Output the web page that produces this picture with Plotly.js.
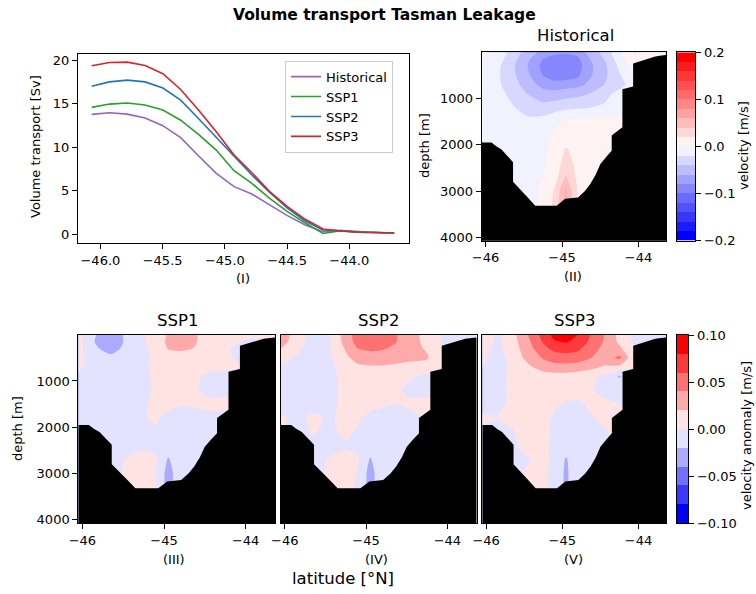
<!DOCTYPE html>
<html>
<head>
<meta charset="utf-8">
<script src="https://cdn.plot.ly/plotly-3.0.1.min.js"></script>
<style>html,body{margin:0;padding:0;background:#fff}#chart{width:756px;height:594px}</style>
</head>
<body>
<div id="chart"></div>
<script>
// ---------- Panel (I): volume transport ----------
var transportLat = [-46.07,-45.927,-45.784,-45.641,-45.498,-45.355,-45.212,-45.069,-44.926,-44.783,-44.64,-44.497,-44.354,-44.211,-44.068,-43.925,-43.782,-43.639];
var transportHist = [13.77,13.96,13.80,13.35,12.47,11.10,9.02,7.00,5.47,4.63,3.37,2.14,1.07,0.30,0.38,0.23,0.20,0.15];
var transportSSP1 = [14.57,14.95,15.07,14.84,14.26,13.10,11.47,9.67,7.30,5.85,4.13,2.60,1.30,0.10,0.42,0.30,0.20,0.15];
var transportSSP2 = [17.00,17.50,17.70,17.50,16.80,15.40,13.30,11.10,8.90,6.80,4.80,3.00,1.53,0.50,0.42,0.23,0.20,0.15];
var transportSSP3 = [19.35,19.73,19.77,19.39,18.43,16.63,14.26,11.78,9.10,7.07,4.90,3.17,1.72,0.60,0.38,0.23,0.20,0.15];
var seriesNames = ["Historical","SSP1","SSP2","SSP3"];

// ---------- Sections: grid ----------
var gridLat = [-46.05,-45.85,-45.65,-45.45,-45.25,-45.1,-44.95,-44.8,-44.65,-44.45,-44.25,-44.05,-43.85,-43.65];
var gridDepth = [0,150,300,500,700,900,1200,1500,1800,2100,2400,2700,3000,3400,4100];

// Historical velocity [m/s]
var velHist = [
 [0.006,-0.004,-0.028,-0.048,-0.066,-0.074,-0.076,-0.072,-0.055,-0.032,-0.004,0.022,0.010,0.004],
 [0.002,-0.010,-0.032,-0.056,-0.080,-0.090,-0.092,-0.086,-0.062,-0.040,-0.010,0.015,0.008,0.002],
 [-0.004,-0.015,-0.036,-0.060,-0.085,-0.095,-0.096,-0.090,-0.066,-0.045,-0.016,0.008,0.004,0.000],
 [-0.006,-0.016,-0.035,-0.056,-0.080,-0.090,-0.090,-0.084,-0.064,-0.045,-0.022,-0.004,0,0],
 [-0.010,-0.016,-0.030,-0.050,-0.066,-0.072,-0.070,-0.066,-0.056,-0.040,-0.030,-0.004,0,0],
 [-0.010,-0.013,-0.025,-0.040,-0.052,-0.052,-0.048,-0.045,-0.040,-0.030,-0.010,0,0,0],
 [-0.008,-0.010,-0.018,-0.028,-0.032,-0.028,-0.024,-0.022,-0.020,-0.015,-0.005,0,0,0],
 [-0.010,-0.010,-0.012,-0.015,-0.012,-0.004,0.003,0.006,0.007,0.007,0.005,0,0,0],
 [-0.010,-0.010,-0.010,-0.008,-0.004,0.002,0.008,0.009,0.008,0.006,0.004,0,0,0],
 [-0.010,-0.010,-0.010,-0.006,-0.003,0.004,0.022,0.012,0.007,0.005,0.004,0,0,0],
 [-0.010,-0.010,-0.008,-0.006,-0.002,0.006,0.030,0.014,0.007,0.004,0.004,0,0,0],
 [-0.010,-0.010,-0.008,-0.006,0.000,0.010,0.042,0.016,0.006,0.004,0,0,0,0],
 [-0.010,-0.010,-0.008,-0.004,0.002,0.022,0.062,0.020,0.005,0.004,0,0,0,0],
 [-0.010,-0.010,-0.008,-0.004,0.002,0.025,0.060,0.020,0.005,0.004,0,0,0,0],
 [-0.010,-0.010,-0.008,-0.004,0.002,0.025,0.060,0.020,0.005,0.004,0,0,0,0]
];
// SSP1 velocity anomaly [m/s]
var anomSSP1 = [
 [0.008,-0.018,-0.036,-0.014,-0.002,0.008,0.022,0.028,0.024,0.010,0.006,0.003,0.002,0.002],
 [0.008,-0.020,-0.038,-0.014,-0.002,0.008,0.024,0.030,0.024,0.010,0.006,0.000,-0.002,0.000],
 [0.006,-0.016,-0.030,-0.012,-0.003,0.006,0.021,0.023,0.020,0.008,0.002,-0.004,-0.004,0.000],
 [0.004,-0.008,-0.014,-0.008,-0.004,0.004,0.010,0.012,0.010,0.008,0.004,-0.004,-0.004,0],
 [0.003,-0.006,-0.008,-0.008,-0.002,0.004,0.008,0.010,0.008,0.006,0.004,0,0,0],
 [-0.002,-0.006,-0.008,-0.008,-0.004,0.003,0.008,0.008,0.004,-0.004,-0.006,0,0,0],
 [-0.006,-0.006,-0.008,-0.008,-0.003,0.002,0.008,0.008,0.003,-0.005,-0.004,0,0,0],
 [-0.006,-0.006,-0.008,-0.008,-0.002,0.004,0.004,0.001,0.002,0.004,0.004,0,0,0],
 [-0.006,-0.006,-0.008,-0.006,-0.001,0.002,-0.004,-0.006,-0.006,-0.004,-0.004,0,0,0],
 [-0.006,-0.006,-0.008,-0.006,-0.003,-0.002,-0.006,-0.006,-0.006,-0.004,-0.004,0,0,0],
 [-0.006,-0.006,-0.006,-0.004,-0.003,-0.004,-0.010,-0.006,-0.006,-0.004,-0.004,0,0,0],
 [-0.006,-0.006,-0.004,0.001,0.006,0.002,-0.022,-0.008,-0.006,-0.004,-0.004,0,0,0],
 [-0.006,-0.006,-0.004,0.002,0.005,0.000,-0.028,-0.008,-0.006,-0.004,-0.004,0,0,0],
 [-0.006,-0.006,-0.004,0.002,0.005,0.000,-0.028,-0.008,-0.006,-0.004,-0.004,0,0,0],
 [-0.006,-0.006,-0.004,0.002,0.005,0.000,-0.028,-0.008,-0.006,-0.004,-0.004,0,0,0]
];
// SSP2 velocity anomaly [m/s]
var anomSSP2 = [
 [0.030,0.012,-0.010,-0.001,0.030,0.050,0.054,0.052,0.042,0.028,0.012,-0.004,0.000,0.000],
 [0.028,0.010,-0.010,-0.002,0.028,0.048,0.052,0.050,0.042,0.028,0.014,-0.002,0,0],
 [0.020,0.004,-0.010,-0.003,0.022,0.040,0.044,0.042,0.036,0.026,0.018,0.000,0,0],
 [0.006,-0.002,-0.012,-0.004,0.016,0.028,0.030,0.030,0.028,0.024,0.022,0,0,0],
 [-0.002,-0.004,-0.008,-0.004,0.008,0.016,0.018,0.018,0.016,0.014,0.012,0,0,0],
 [-0.004,-0.006,-0.006,-0.004,0.004,0.008,0.008,0.008,0.006,0.002,-0.004,0,0,0],
 [-0.006,-0.006,-0.006,-0.004,0.004,0.008,0.008,0.008,0.003,-0.004,-0.004,0,0,0],
 [-0.006,-0.006,-0.006,-0.004,0.004,0.006,0.004,0.002,0.000,0.003,0.004,0,0,0],
 [0.002,-0.004,0.003,-0.002,0.004,0.002,-0.004,-0.006,-0.006,-0.004,0.002,0,0,0],
 [0.002,-0.004,0.001,-0.003,0.003,-0.002,-0.006,-0.006,-0.006,-0.004,0,0,0,0],
 [-0.004,-0.004,-0.004,-0.004,-0.002,-0.004,-0.010,-0.006,-0.006,-0.004,0,0,0,0],
 [-0.004,-0.004,-0.004,0.001,0.005,0.002,-0.022,-0.006,-0.006,-0.004,0,0,0,0],
 [-0.004,-0.004,-0.004,0.002,0.004,-0.001,-0.028,-0.006,-0.006,-0.004,0,0,0,0],
 [-0.004,-0.004,-0.004,0.002,0.004,-0.001,-0.028,-0.006,-0.006,-0.004,0,0,0,0],
 [-0.004,-0.004,-0.004,0.002,0.004,-0.001,-0.028,-0.006,-0.006,-0.004,0,0,0,0]
];
// SSP3 velocity anomaly [m/s]
var anomSSP3 = [
 [0.015,-0.004,0.014,0.040,0.068,0.088,0.094,0.080,0.062,0.040,0.014,-0.006,0,0],
 [0.012,-0.004,0.012,0.036,0.062,0.078,0.082,0.074,0.058,0.038,0.016,-0.004,0,0],
 [0.008,-0.006,0.010,0.032,0.054,0.066,0.068,0.064,0.052,0.034,0.024,0.000,0,0],
 [0.004,-0.008,0.008,0.026,0.042,0.050,0.052,0.050,0.042,0.030,0.045,0,0,0],
 [0.000,-0.008,0.004,0.016,0.028,0.032,0.032,0.030,0.026,0.018,0.014,0,0,0],
 [-0.004,-0.006,0.004,0.010,0.012,0.012,0.012,0.010,0.006,-0.004,-0.022,0,0,0],
 [-0.004,-0.006,0.004,0.008,0.008,0.008,0.008,0.008,0.002,-0.004,-0.006,0,0,0],
 [-0.004,-0.004,0.004,0.006,0.006,0.002,-0.002,-0.003,0.002,0.003,0.000,0,0,0],
 [0.002,0.000,0.004,0.006,0.004,-0.002,-0.004,-0.004,-0.002,0.003,0.002,0,0,0],
 [-0.002,-0.004,-0.001,0.006,0.004,-0.003,-0.005,-0.005,-0.004,-0.001,0.002,0,0,0],
 [-0.002,-0.004,-0.002,0.004,0.004,-0.004,-0.012,-0.005,-0.004,0.000,0,0,0,0],
 [-0.002,-0.004,-0.003,-0.001,0.004,-0.004,-0.022,-0.004,-0.004,0,0,0,0,0],
 [-0.002,-0.004,-0.003,0.002,0.004,-0.006,-0.024,-0.004,-0.004,0,0,0,0,0],
 [-0.002,-0.004,-0.003,0.002,0.004,-0.006,-0.024,-0.004,-0.004,0,0,0,0,0],
 [-0.002,-0.004,-0.003,0.002,0.004,-0.006,-0.024,-0.004,-0.004,0,0,0,0,0]
];
// Bathymetry (sea floor) along the section
var bathyLat = [-46.05,-45.92,-45.86,-45.79,-45.72,-45.64,-45.64,-45.55,-45.46,-45.35,-45.07,-44.96,-44.79,-44.70,-44.63,-44.56,-44.50,-44.42,-44.35,-44.35,-44.28,-44.21,-44.21,-44.15,-44.07,-44.07,-44.00,-43.93,-43.85,-43.78,-43.70,-43.64];
var bathyDepth = [1950,1950,2030,2100,2230,2380,2800,2950,3120,3320,3320,3170,3140,3000,2850,2650,2420,2260,2130,1800,1700,1620,800,770,740,240,200,160,120,90,70,60];
var maxDepth = 4200;

// Colour levels (contour intervals)
var histLevels = {lo:-0.2, hi:0.2, step:0.02};
var anomLevels = {lo:-0.1, hi:0.1, step:0.02};
var histCbTicks = [-0.2,-0.1,0,0.1,0.2];
var anomCbTicks = [-0.1,-0.05,0,0.05,0.1];

// ---------- Styling ----------
var FONT = "DejaVu Sans";
var lineColors = ["#9467bd","#2ca02c","#1f77b4","#d62728"];
var bwr = [[0,"rgb(0,0,255)"],[0.5,"rgb(255,255,255)"],[1,"rgb(255,0,0)"]];
var W = 756, H = 594;
function px(x){return x/W;}
function py(y){return 1 - y/H;}

var traces = [];
[transportHist, transportSSP1, transportSSP2, transportSSP3].forEach(function(v,i){
  traces.push({type:"scatter", mode:"lines", x:transportLat, y:v, name:seriesNames[i],
    line:{color:lineColors[i], width:1.6}, xaxis:"x", yaxis:"y", hoverinfo:"skip"});
});

function section(z, ax, lev){
  traces.push({type:"contour", x:gridLat, y:gridDepth, z:z, xaxis:"x"+ax, yaxis:"y"+ax,
    autocontour:false, contours:{start:lev.lo+lev.step, end:lev.hi-lev.step, size:lev.step, coloring:"fill", showlines:false},
    line:{width:0, smoothing:0.6}, colorscale:bwr, showscale:false, hoverinfo:"skip", showlegend:false});
  var bx = bathyLat.slice(), by = bathyDepth.slice();
  bx.push(bathyLat[bathyLat.length-1]); by.push(maxDepth);
  bx.push(bathyLat[0]); by.push(maxDepth);
  traces.push({type:"scatter", mode:"lines", x:bx, y:by, fill:"toself", fillcolor:"#000",
    line:{width:0, color:"#000"}, xaxis:"x"+ax, yaxis:"y"+ax, hoverinfo:"skip", showlegend:false});
}
section(velHist, "2", histLevels);
section(anomSSP1, "3", anomLevels);
section(anomSSP2, "4", anomLevels);
section(anomSSP3, "5", anomLevels);

// Discrete colour bars as one-column heatmaps of the band centres
function colorbarTrace(lev, ax){
  var mids = [], z = [];
  var n = Math.round((lev.hi-lev.lo)/lev.step);
  for (var i=0;i<n;i++){ var m = lev.lo + (i+0.5)*lev.step; mids.push(m); z.push([m]); }
  traces.push({type:"heatmap", x:[0], y:mids, z:z, xaxis:"x"+ax, yaxis:"y"+ax, colorscale:bwr,
    zmin:mids[0], zmax:mids[n-1], showscale:false, hoverinfo:"skip", showlegend:false});
}
colorbarTrace(histLevels, "6");
colorbarTrace(anomLevels, "7");

var axBase = {showline:true, mirror:true, linecolor:"#000", linewidth:1, ticks:"outside",
  ticklen:5, tickwidth:1, tickcolor:"#000", showgrid:false, zeroline:false,
  tickfont:{family:FONT, size:13, color:"#000"}};
function ax(o){return Object.assign({}, axBase, o);}
var latTicks = [-46,-45,-44];
var depthTicks = [1000,2000,3000,4000];
var latRange = [-46.05,-43.64];
var depthRange = [4075,0];
var bottomDom = [py(523.3), py(334.7)];

var layout = {
  width:W, height:H, margin:{l:0,r:0,t:0,b:0}, paper_bgcolor:"#fff", plot_bgcolor:"#fff",
  font:{family:FONT, size:13, color:"#000"},
  showlegend:true,
  legend:{x:px(285), y:py(60.7), xanchor:"left", yanchor:"top", bgcolor:"rgba(255,255,255,0.8)",
    bordercolor:"#cccccc", borderwidth:1, font:{family:FONT, size:13, color:"#000"}, tracegroupgap:0},
  xaxis: ax({domain:[px(78),px(409)], range:[-46.18,-43.52], tickvals:[-46,-45.5,-45,-44.5,-44], tickformat:".1f", anchor:"y"}),
  yaxis: ax({domain:[py(243),py(54)], range:[-1.0,20.7], tickvals:[0,5,10,15,20], anchor:"x"}),
  xaxis2: ax({domain:[px(481.7),px(666)], range:latRange, tickvals:latTicks, anchor:"y2"}),
  yaxis2: ax({domain:[py(240.7),py(52.3)], range:depthRange, tickvals:depthTicks, anchor:"x2"}),
  xaxis3: ax({domain:[px(78.3),px(275)], range:latRange, tickvals:latTicks, anchor:"y3"}),
  yaxis3: ax({domain:bottomDom, range:depthRange, tickvals:depthTicks, anchor:"x3"}),
  xaxis4: ax({domain:[px(280.7),px(476.7)], range:latRange, tickvals:latTicks, anchor:"y4"}),
  yaxis4: ax({domain:bottomDom, range:depthRange, tickvals:depthTicks, anchor:"x4", showticklabels:false, ticks:""}),
  xaxis5: ax({domain:[px(482.3),px(666)], range:latRange, tickvals:latTicks, anchor:"y5"}),
  yaxis5: ax({domain:bottomDom, range:depthRange, tickvals:depthTicks, anchor:"x5", showticklabels:false, ticks:""}),
  xaxis6: ax({domain:[px(677),px(695.3)], range:[-0.5,0.5], showticklabels:false, ticks:"", anchor:"y6"}),
  yaxis6: ax({domain:[py(240.7),py(52.3)], range:[histLevels.lo,histLevels.hi], tickvals:histCbTicks, tickformat:".1f", side:"right", anchor:"x6"}),
  xaxis7: ax({domain:[px(677),px(688.3)], range:[-0.5,0.5], showticklabels:false, ticks:"", anchor:"y7"}),
  yaxis7: ax({domain:[py(523.3),py(335)], range:[anomLevels.lo,anomLevels.hi], tickvals:anomCbTicks, tickformat:".2f", side:"right", anchor:"x7"}),
  annotations: []
};
function note(text, x, y, size, extra){
  layout.annotations.push(Object.assign({text:text, xref:"paper", yref:"paper", x:px(x), y:py(y),
    xanchor:"center", yanchor:"middle", showarrow:false, font:{family:FONT, size:size, color:"#000"}}, extra||{}));
}
note("<b>Volume transport Tasman Leakage</b>", 384, 15, 15.5);
note("Historical", 575, 35, 16.5);
note("SSP1", 177, 320, 16.5);
note("SSP2", 378, 320, 16.5);
note("SSP3", 574, 320, 16.5);
note("(I)", 243, 278, 13);
note("(II)", 573, 277, 13);
note("(III)", 174, 559, 13);
note("(IV)", 376, 559, 13);
note("(V)", 573, 559, 13);
note("latitude [°N]", 343, 578, 16.5);
note("Volume transport [Sv]", 35, 147, 13, {textangle:-90});
note("depth [m]", 424, 146, 13, {textangle:-90});
note("depth [m]", 17, 429, 13, {textangle:-90});
note("velocity [m/s]", 743, 146, 13, {textangle:-90});
note("velocity anomaly [m/s]", 746, 436, 13, {textangle:-90});

Plotly.newPlot("chart", traces, layout, {staticPlot:true, displayModeBar:false});
</script>
</body>
</html>
